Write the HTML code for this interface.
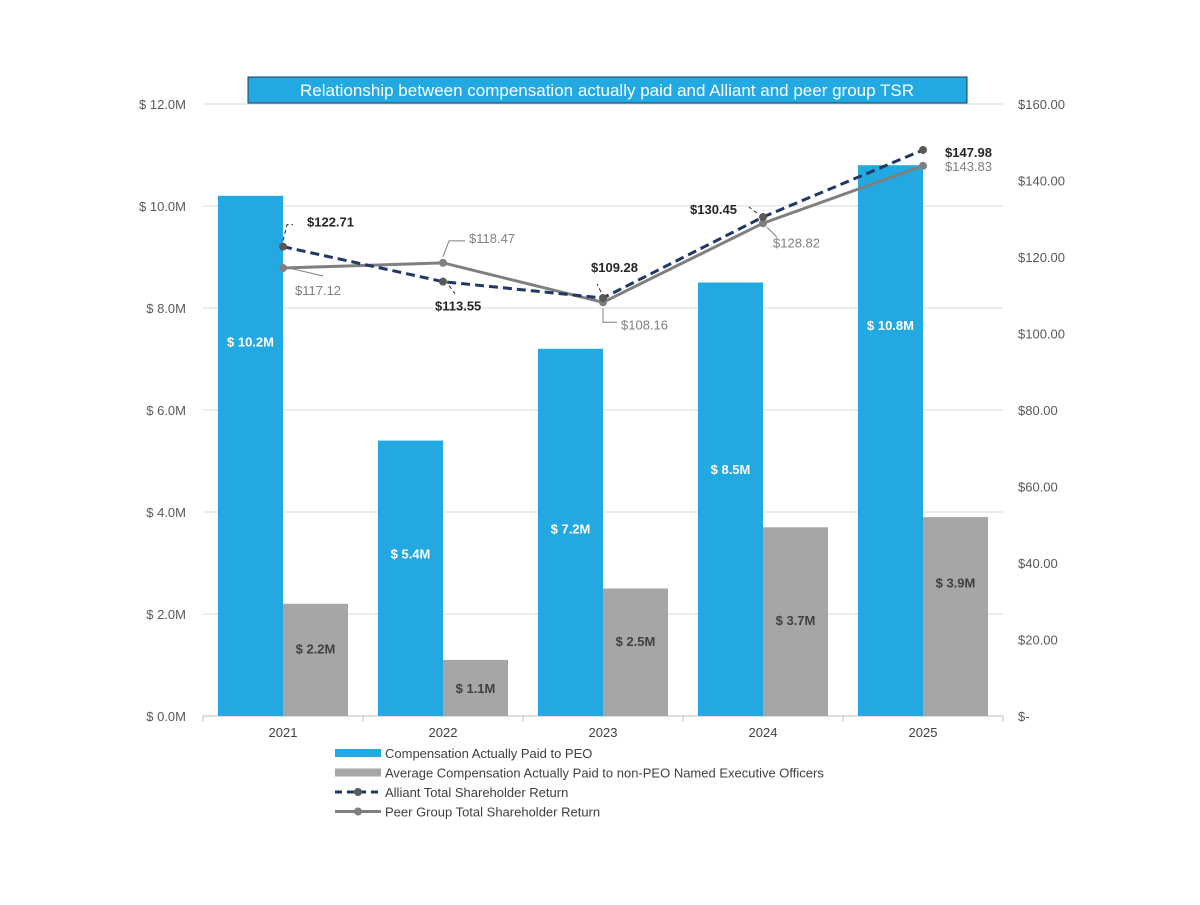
<!DOCTYPE html>
<html><head><meta charset="utf-8"><style>
body{margin:0;background:#fff;width:1200px;height:900px;overflow:hidden}
svg text{font-family:"Liberation Sans",sans-serif}
</style></head><body>
<svg id="c" width="1200" height="900"></svg>
<script>
const categories=["2021","2022","2023","2024","2025"];
const peoValues=[10.2,5.4,7.2,8.5,10.8];
const neoValues=[2.2,1.1,2.5,3.7,3.9];
const alliantTSR=[122.71,113.55,109.28,130.45,147.98];
const peerTSR=[117.12,118.47,108.16,128.82,143.83];
const leftTicks=[0,2,4,6,8,10,12];
const rightTicks=[0,20,40,60,80,100,120,140,160];

const svg=document.getElementById('c');
const NS='http://www.w3.org/2000/svg';
function mk(t,a,txt){const e=document.createElementNS(NS,t);for(const k in a)e.setAttribute(k,a[k]);if(txt!=null)e.textContent=txt;svg.appendChild(e);return e;}
const X0=203,X1=1003,Y0=716,Y1=104;
const bw=(X1-X0)/categories.length;
const yL=v=>Y0-(v/12)*(Y0-Y1);
const yR=v=>Y0-(v/160)*(Y0-Y1);
const xc=i=>X0+bw*(i+0.5);

leftTicks.forEach(t=>{
  const g=mk('line',{x1:X0,x2:X1,y1:yL(t),y2:yL(t),stroke:'#d9d9d9','stroke-width':1});
  
  const l=mk('text',{x:186,y:yL(t)+5,'text-anchor':'end','font-size':13,fill:'#595959'},'$ '+t.toFixed(1)+'M');
  
});
rightTicks.forEach(t=>{
  const l=mk('text',{x:1018,y:yR(t)+5,'font-size':13,fill:'#595959'},t===0?'$-':'$'+t.toFixed(2));
  
});
const ax=mk('line',{x1:X0,x2:X1,y1:Y0,y2:Y0,stroke:'#bfbfbf'});

categories.forEach((c,i)=>{
  const tk=mk('line',{x1:X0+bw*i,x2:X0+bw*i,y1:Y0,y2:Y0+6,stroke:'#bfbfbf'});
  
  const l=mk('text',{x:xc(i),y:737,'text-anchor':'middle','font-size':13,fill:'#404040'},c);
  
});
const tk=mk('line',{x1:X1,x2:X1,y1:Y0,y2:Y0+6,stroke:'#bfbfbf'});


const w=65;
const peoLabelFrac=[0.72,0.59,0.51,0.57,0.71];
const neoLabelFrac=[0.6,0.5,0.59,0.51,0.67];
categories.forEach((c,i)=>{
  const b=mk('rect',{x:xc(i)-w,y:yL(peoValues[i]),width:w,height:Y0-yL(peoValues[i]),fill:'#22a9e1'});
  
  const l=mk('text',{x:xc(i)-w/2,y:yL(peoValues[i]*peoLabelFrac[i])+5,'text-anchor':'middle','font-size':13,'font-weight':'bold',fill:'#fff'},'$ '+peoValues[i].toFixed(1)+'M');
  
  const g=mk('rect',{x:xc(i),y:yL(neoValues[i]),width:w,height:Y0-yL(neoValues[i]),fill:'#a6a6a6'});
  
  const l2=mk('text',{x:xc(i)+w/2,y:yL(neoValues[i]*neoLabelFrac[i])+5,'text-anchor':'middle','font-size':13,'font-weight':'bold',fill:'#404040'},'$ '+neoValues[i].toFixed(1)+'M');
  
});

const pp=mk('polyline',{points:peerTSR.map((v,i)=>xc(i)+','+yR(v)).join(' '),fill:'none',stroke:'#7f7f7f','stroke-width':3});

const ap=mk('polyline',{points:alliantTSR.map((v,i)=>xc(i)+','+yR(v)).join(' '),fill:'none',stroke:'#1f3864','stroke-width':3,'stroke-dasharray':'9,5'});

peerTSR.forEach((v,i)=>{const d=mk('circle',{cx:xc(i),cy:yR(v),r:4,fill:'#7f7f7f'});});
alliantTSR.forEach((v,i)=>{const d=mk('circle',{cx:xc(i),cy:yR(v),r:4,fill:'#595959'});});

const aOff=[[24,-20],[-8,29],[-12,-26],[-73,-3],[22,7]];
const pOff=[[12,27],[26,-20],[18,27],[10,24],[22,5]];
const aLead=[[[0,-6],[4,-22],[10,-22]],[[6,4],[12,12]],[[-2,-6],[-6,-14]],[[-6,-4],[-14,-10]],null];
const pLead=[[[6,0],[40,8]],[[0,-6],[6,-22],[22,-22]],[[0,6],[0,20],[14,20]],[[4,4],[14,14]],null];
function leads(arr,vals,col,dash,name){
  arr.forEach((p,i)=>{if(!p)return;
    const pts=p.map(q=>(xc(i)+q[0])+','+(yR(vals[i])+q[1])).join(' ');
    const l=mk('polyline',{points:pts,fill:'none',stroke:col,'stroke-width':1,'stroke-dasharray':dash});
    });
}
leads(aLead,alliantTSR,'#262626','4,3','alliant-leader-line');
leads(pLead,peerTSR,'#7f7f7f','none','peer-leader-line');
alliantTSR.forEach((v,i)=>{
  const l=mk('text',{x:xc(i)+aOff[i][0],y:yR(v)+aOff[i][1],'font-size':13,'font-weight':'bold',fill:'#262626'},'$'+v.toFixed(2));
  
});
peerTSR.forEach((v,i)=>{
  const l=mk('text',{x:xc(i)+pOff[i][0],y:yR(v)+pOff[i][1],'font-size':13,fill:'#7f7f7f'},'$'+v.toFixed(2));
  
});

const tb=mk('rect',{x:248,y:77,width:719,height:26,fill:'#22a9e1',stroke:'#1f3864','stroke-width':1});

const tt=mk('text',{x:607,y:96,'text-anchor':'middle','font-size':17,fill:'#fff'},'Relationship between compensation actually paid and Alliant and peer group TSR');


const leg=[['Compensation Actually Paid to PEO','bar','#22a9e1'],['Average Compensation Actually Paid to non-PEO Named Executive Officers','bar','#a6a6a6'],['Alliant Total Shareholder Return','dash','#1f3864'],['Peer Group Total Shareholder Return','line','#7f7f7f']];
leg.forEach((e,k)=>{
  const y=753+k*19.5;
  if(e[1]==='bar'){const s=mk('rect',{x:335,y:y-4,width:46,height:8,fill:e[2]});}
  else{const s=mk('line',{x1:335,x2:381,y1:y,y2:y,stroke:e[2],'stroke-width':3,'stroke-dasharray':e[1]==='dash'?'7,5':'none'});
    const d=mk('circle',{cx:358,cy:y,r:4,fill:e[1]==='dash'?'#595959':'#7f7f7f'});}
  const t=mk('text',{x:385,y:y+5,'font-size':13,fill:'#404040'},e[0]);
  
});
</script>
</body></html>
